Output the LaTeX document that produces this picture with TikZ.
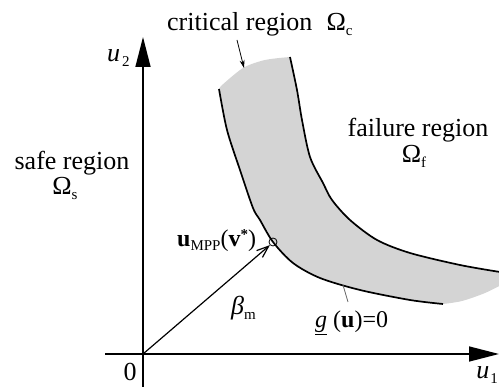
\documentclass[tikz,border=0pt]{standalone}
\usepackage{fontspec}
\setmainfont{Liberation Serif}
\usetikzlibrary{arrows.meta}
\newcommand\lo[1]{\raisebox{-0.35ex}{\fontsize{15}{15}\selectfont #1}}
\tikzset{
  axis/.style={line width=1.5pt,-{Triangle[length=30pt,width=15pt]}},
  curve/.style={line width=1.7pt},
  lbl/.style={inner sep=0pt,font=\fontsize{26}{30}\selectfont},
  band/.style={fill=black!17}
}
\begin{document}
\begin{tikzpicture}[x=1pt,y=-1pt]
\useasboundingbox (0,0) rectangle (499,387);
% band
\fill[band] plot[smooth] coordinates {(219,89) (227,130) (240,170) (253,208) (260,220) (273,242) (293,263) (320,278) (360,290) (410,300) (443,304)}
  -- plot[smooth] coordinates {(443,304) (462,301) (485,293) (505,283)}
  -- (505,272)
  -- plot[smooth] coordinates {(500,272) (460,265) (410,253) (377,240) (350,220) (332,200) (323,183) (310,157) (302,120) (297,90) (290,57)}
  -- plot[smooth] coordinates {(290,57) (265,60) (243,68) (221,86)} -- cycle;
% curves
\draw[curve] plot[smooth] coordinates {(219,89) (227,130) (240,170) (253,208) (260,220) (273,242) (293,263) (320,278) (360,290) (410,300) (443,304)};
\draw[curve] plot[smooth] coordinates {(290,57) (297,90) (302,120) (310,157) (323,183) (332,200) (350,220) (377,240) (410,253) (460,265) (500,272)};
% axes
\coordinate (O) at (143,354);
\coordinate (ybot) at (143,390);
\coordinate (ytop) at (143,37);
\coordinate (xleft) at (105,354);
\coordinate (xright) at (499,354);
\draw[axis] (ybot) -- (ytop);
\draw[axis] (xleft) -- (xright);
% MPP
\node[circle,draw,line width=0.8pt,minimum size=8pt,inner sep=0pt] (mpp) at (273,242) {};
\draw[line width=1.2pt,-{Straight Barb[length=12pt,width=9pt]}] (O) -- (mpp.south west);
% critical arrow
\coordinate (ca) at (237,40);
\coordinate (cb) at (244,68);
\draw[line width=0.8pt,-{Stealth[length=8pt,width=5pt]}] (ca) -- (cb);
% leader g
\coordinate (ga) at (343,285);
\coordinate (gb) at (348,302);
\draw[line width=0.8pt,black!60] (ga) -- (gb);
% labels
\node[lbl,anchor=base west] (crit) at (167,31) {critical region\hspace{0.55em}Ω\lo{c}};
\node[lbl,anchor=base] (safe) at (72,170) {safe region};
\node[lbl,anchor=base] (safeO) at (65,195) {Ω\lo{s}};
\node[lbl,anchor=base] (fail) at (418,137) {failure region};
\node[lbl,anchor=base] (failO) at (414,163) {Ω\lo{f}};
\node[lbl,anchor=base west] (u2) at (107,62) {\itshape u\hspace{2pt}\upshape\lo{2}};
\node[lbl,anchor=base east] (u1) at (498,379) {\itshape u\hspace{1pt}\upshape\lo{1}};
\node[lbl,anchor=base] (zero) at (130,381) {0};
\node[lbl,anchor=base west,font=\fontsize{24}{28}\selectfont] (umpp) at (177,247) {\textbf{u}\lo{MPP}(\textbf{v}\raisebox{0.7ex}{\fontsize{15}{15}\selectfont\textbf{*}})};
\node[lbl,anchor=base west] (beta) at (231,315) {\itshape β\upshape\lo{m}};
\node[lbl,anchor=base west,font=\fontsize{24}{28}\selectfont] (g) at (315,328) {\underline{\itshape g} (\textbf{u})=0};
\end{tikzpicture}
\end{document}
